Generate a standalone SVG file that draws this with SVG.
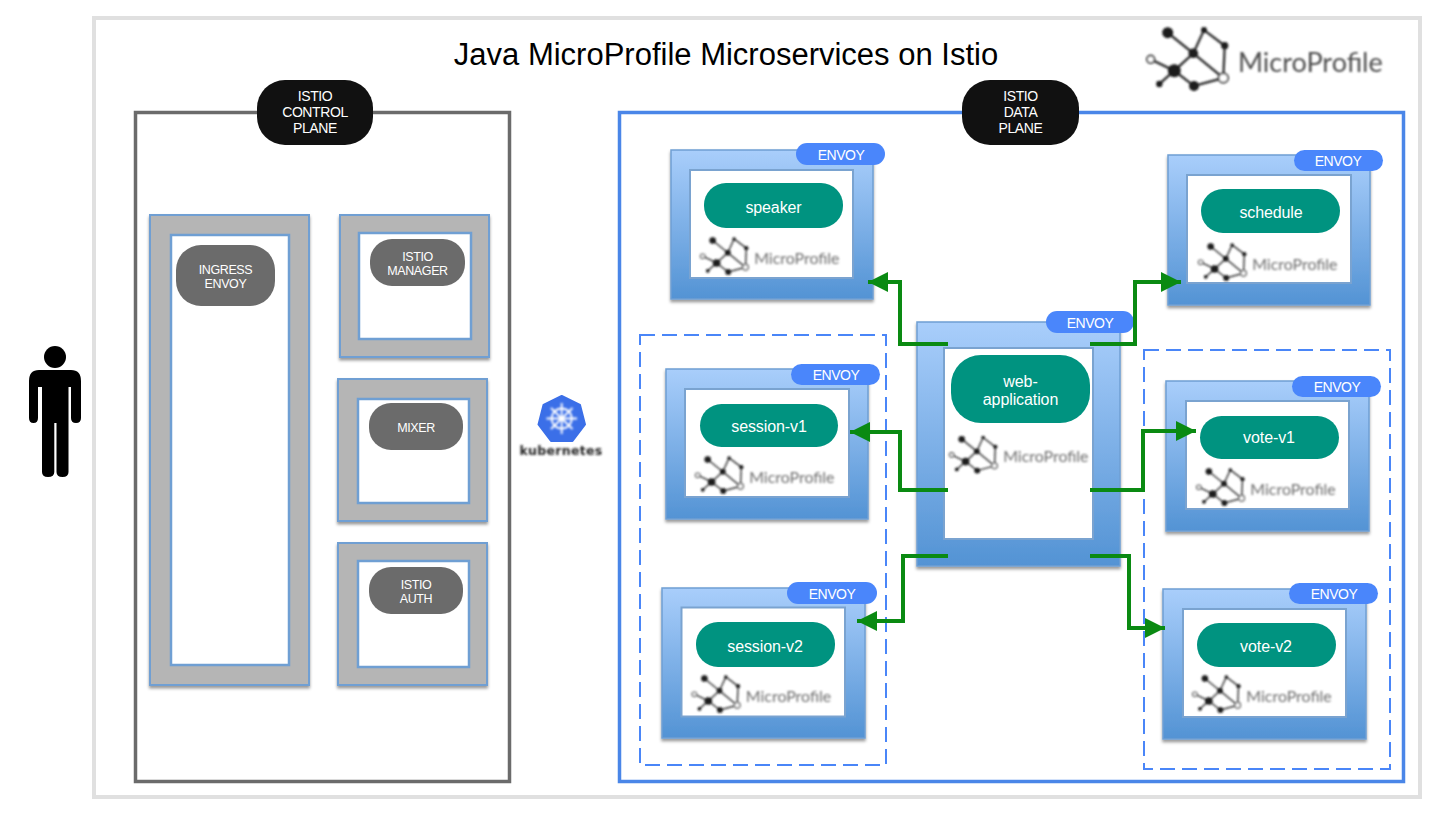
<svg xmlns="http://www.w3.org/2000/svg" width="1438" height="814" viewBox="0 0 1438 814">
<style>
text{font-family:"Liberation Sans",Arial,sans-serif;text-anchor:middle}
.outer{fill:url(#blue);stroke:#6f9fd3;stroke-width:1.5;filter:url(#shadow)}
.inner{fill:#fff;stroke:#7aa3d0;stroke-width:2}
.gouter{fill:#b5b5b5;stroke:#6f9fd3;stroke-width:2;filter:url(#shadow)}
.ginner{fill:#fff;stroke:#6f9fd3;stroke-width:2.500}
.svc{fill:#009380}
.svct{fill:#fff;font-size:16px;letter-spacing:-.1px}
.env{fill:#4a86fb}
.envt{fill:#fff;font-size:14px;letter-spacing:-.5px}
.blk{fill:#111}
.gpill{fill:#6b6b6b}
.lbl{fill:#fff;font-size:14px;letter-spacing:-.4px}
.glbl{fill:#fff;font-size:12.500px;letter-spacing:-.4px}
.dash{fill:none;stroke:#4a86f8;stroke-width:2;stroke-dasharray:15 7}
.conn{fill:none;stroke:#0a8a12;stroke-width:4;marker-end:url(#arrow)}
.lg{stroke:#333;stroke-width:2.400;fill:none}
.lt{font-family:"Lato","Liberation Sans",sans-serif;font-size:27px;fill:currentColor;text-anchor:start}
.small{color:#6e6e6e}
</style>
<defs>
<linearGradient id="blue" x1="0" y1="0" x2="0" y2="1"><stop offset="0" stop-color="#a9cefb"/><stop offset="1" stop-color="#5393d4"/></linearGradient>
<filter id="shadow" x="-5%" y="-5%" width="110%" height="110%"><feDropShadow dx="0" dy="2.500" stdDeviation="1.800" flood-color="#000" flood-opacity=".4"/></filter>
<filter id="soft" x="-5%" y="-5%" width="110%" height="110%"><feGaussianBlur stdDeviation=".8"/></filter>
<marker id="arrow" markerUnits="userSpaceOnUse" markerWidth="22" markerHeight="22" refX="20" refY="10" orient="auto"><path d="M0 0L20 10L0 20Z" fill="#0a8a12"/></marker>
<g id="logo">
<path class="lg" d="M22.700 7.700L48.300 28.300L59 5L79.700 20.700L78.300 53L48.300 28.300L29.300 45.700L5.700 34.300M29.300 45.700L14.300 59M29.300 45.700L49 61L78.300 53"/>
<g fill="#1a1a1a"><circle cx="22.700" cy="7.700" r="5.500"/><circle cx="59" cy="5" r="3"/><circle cx="79.700" cy="20.700" r="3.600"/><circle cx="48.300" cy="28.300" r="4.800"/><circle cx="29.300" cy="45.700" r="6.500"/><circle cx="14.300" cy="59" r="3.200"/><circle cx="49" cy="61" r="5"/></g>
<circle cx="5.700" cy="34.300" r="3.800" fill="#fff" stroke="#444" stroke-width="2"/><circle cx="78.300" cy="53" r="4.800" fill="#fff" stroke="#444" stroke-width="2"/>
<text class="lt" x="93" y="47">MicroProfile</text>
</g>
</defs>
<rect width="1438" height="814" fill="#fff"/>
<rect id="frame" x="94" y="18" width="1326" height="779" fill="#fff" stroke="#e0e0e0" stroke-width="4"/>
<text id="title" x="726" y="65" font-size="31" fill="#000">Java MicroProfile Microservices on Istio</text>
<use id="main-logo" href="#logo" x="1145" y="25" filter="url(#soft)" color="#4d4d4d"/>

<g id="person" fill="#000"><circle cx="55" cy="357" r="11"/><path d="M39 370H71Q81 370 81 381V418Q81 423 76 423Q71 423 71 418V387H68.500V472Q68.500 477 62.500 477Q56.500 477 56.500 472V423H54.300V472Q54.300 477 48 477Q42 477 42 472V387H38V418Q38 423 33.500 423Q29 423 29 418V381Q29 370 39 370Z"/></g>

<g id="kubernetes">
<path d="M561.700 396L580 405L585 424.500L572.500 441H551L538.500 424.500L543.500 405Z" fill="#3b6fe8" stroke="#3b6fe8" stroke-width="2" stroke-linejoin="round"/>
<g stroke="#fff" fill="none" stroke-width="1.800" filter="url(#soft)"><circle cx="561.700" cy="418.500" r="10"/><path d="M561.700 403V434M546.500 418.500H577M551 408L572.500 429M572.500 408L551 429"/></g>
<text x="561" y="455" font-size="12.500" font-weight="700" letter-spacing=".3" style="font-family:'DejaVu Sans',sans-serif" fill="#222" filter="url(#soft)">kubernetes</text>
</g>

<g id="control-plane">
<rect x="135.500" y="112.500" width="374" height="669" fill="#fff" stroke="#6b6b6b" stroke-width="3.500"/>
<rect class="blk" x="257" y="80" width="116" height="65" rx="28"/>
<text class="lbl"><tspan x="315" y="101">ISTIO</tspan><tspan x="315" y="117">CONTROL</tspan><tspan x="315" y="133">PLANE</tspan></text>
</g>
<g id="ingress-envoy">
<rect class="gouter" x="150" y="215" width="159" height="470"/><rect class="ginner" x="171" y="235" width="118" height="430"/>
<rect class="gpill" x="176" y="245" width="99" height="61" rx="25"/>
<text class="glbl"><tspan x="225.500" y="274">INGRESS</tspan><tspan x="225.500" y="288">ENVOY</tspan></text>
</g>
<g id="istio-manager">
<rect class="gouter" x="340" y="215" width="149" height="142"/><rect class="ginner" x="359" y="233" width="112" height="106"/>
<rect class="gpill" x="370" y="239" width="95" height="47" rx="22"/>
<text class="glbl"><tspan x="417.500" y="261">ISTIO</tspan><tspan x="417.500" y="275">MANAGER</tspan></text>
</g>
<g id="mixer">
<rect class="gouter" x="338" y="379" width="149" height="142"/><rect class="ginner" x="358" y="399" width="111" height="104"/>
<rect class="gpill" x="369" y="403" width="94" height="47" rx="22"/>
<text class="glbl" x="416" y="432">MIXER</text>
</g>
<g id="istio-auth">
<rect class="gouter" x="338" y="543" width="149" height="142"/><rect class="ginner" x="358" y="561" width="111" height="106"/>
<rect class="gpill" x="369" y="567" width="94" height="47" rx="22"/>
<text class="glbl"><tspan x="416" y="589">ISTIO</tspan><tspan x="416" y="603">AUTH</tspan></text>
</g>

<g id="data-plane">
<rect x="619.500" y="112.500" width="784" height="669" fill="#fff" stroke="#4a86e8" stroke-width="3.500"/>
<rect class="dash" x="640" y="335" width="246" height="430"/>
<rect class="dash" x="1144" y="350" width="246" height="419"/>
<rect class="blk" x="962" y="80" width="117" height="65" rx="28"/>
<text class="lbl"><tspan x="1020.500" y="101">ISTIO</tspan><tspan x="1020.500" y="117">DATA</tspan><tspan x="1020.500" y="133">PLANE</tspan></text>
</g>

<g id="speaker">
<rect class="outer" x="671" y="150" width="202" height="149"/><rect class="inner" x="690" y="170" width="163" height="108"/>
<rect class="svc" x="704" y="183" width="139" height="45" rx="22"/><text class="svct" x="773.500" y="213">speaker</text>
<g filter="url(#soft)"><use class="small" href="#logo" transform="translate(699.300 236) scale(.59)"/></g>
<rect class="env" x="796" y="143" width="89" height="22" rx="11"/><text class="envt" x="841" y="160">ENVOY</text>
</g>
<g id="schedule">
<rect class="outer" x="1168" y="155" width="202" height="150"/><rect class="inner" x="1187" y="175" width="164" height="108"/>
<rect class="svc" x="1201" y="189" width="139" height="44" rx="22"/><text class="svct" x="1271" y="218">schedule</text>
<g filter="url(#soft)"><use class="small" href="#logo" transform="translate(1197.300 242) scale(.59)"/></g>
<rect class="env" x="1294" y="150" width="89" height="21" rx="10.500"/><text class="envt" x="1338" y="166">ENVOY</text>
</g>
<g id="session-v1">
<rect class="outer" x="666" y="369" width="202" height="150"/><rect class="inner" x="685" y="389" width="164" height="108"/>
<rect class="svc" x="700" y="404" width="138" height="43" rx="21.500"/><text class="svct" x="769" y="432">session-v1</text>
<g filter="url(#soft)"><use class="small" href="#logo" transform="translate(694.300 455) scale(.59)"/></g>
<rect class="env" x="791" y="364" width="89" height="21" rx="10.500"/><text class="envt" x="836" y="380">ENVOY</text>
</g>
<g id="session-v2">
<rect class="outer" x="662" y="588" width="203" height="150"/><rect class="inner" x="681.500" y="607.500" width="163.500" height="109"/>
<rect class="svc" x="696" y="622" width="139" height="45" rx="22"/><text class="svct" x="765" y="652">session-v2</text>
<g filter="url(#soft)"><use class="small" href="#logo" transform="translate(691 674) scale(.59)"/></g>
<rect class="env" x="787" y="582" width="90" height="22" rx="11"/><text class="envt" x="832" y="599">ENVOY</text>
</g>
<g id="vote-v1">
<rect class="outer" x="1166" y="381" width="203" height="150"/><rect class="inner" x="1186" y="401" width="163" height="108"/>
<rect class="svc" x="1200" y="416" width="139" height="43" rx="21.500"/><text class="svct" x="1269" y="443">vote-v1</text>
<g filter="url(#soft)"><use class="small" href="#logo" transform="translate(1195.500 467) scale(.59)"/></g>
<rect class="env" x="1292" y="376" width="89" height="21" rx="10.500"/><text class="envt" x="1337" y="392">ENVOY</text>
</g>
<g id="vote-v2">
<rect class="outer" x="1163" y="589" width="203" height="150"/><rect class="inner" x="1183" y="609" width="163" height="108"/>
<rect class="svc" x="1197" y="623" width="139" height="44" rx="22"/><text class="svct" x="1266" y="652">vote-v2</text>
<g filter="url(#soft)"><use class="small" href="#logo" transform="translate(1191.500 674) scale(.59)"/></g>
<rect class="env" x="1289" y="583" width="89" height="21" rx="10.500"/><text class="envt" x="1334" y="599">ENVOY</text>
</g>
<g id="web-application">
<rect class="outer" x="917" y="322" width="203" height="244"/><rect class="inner" x="944" y="348" width="149" height="191"/>
<rect class="svc" x="951" y="355" width="139" height="68" rx="30"/>
<text class="svct"><tspan x="1020.500" y="387">web-</tspan><tspan x="1020.500" y="405">application</tspan></text>
<g filter="url(#soft)"><use class="small" href="#logo" transform="translate(948.300 434.600) scale(.59)"/></g>
<rect class="env" x="1046" y="311" width="88" height="22" rx="11"/><text class="envt" x="1090" y="328">ENVOY</text>
</g>

<g id="connectors">
<path class="conn" d="M948 344H900V282H868"/>
<path class="conn" d="M1090 344H1135V282H1181"/>
<path class="conn" d="M948 490H900V432H850"/>
<path class="conn" d="M1090 490H1143V431H1196"/>
<path class="conn" d="M948 556H903V621H857"/>
<path class="conn" d="M1090 556H1129V628H1165"/>
</g>
</svg>
